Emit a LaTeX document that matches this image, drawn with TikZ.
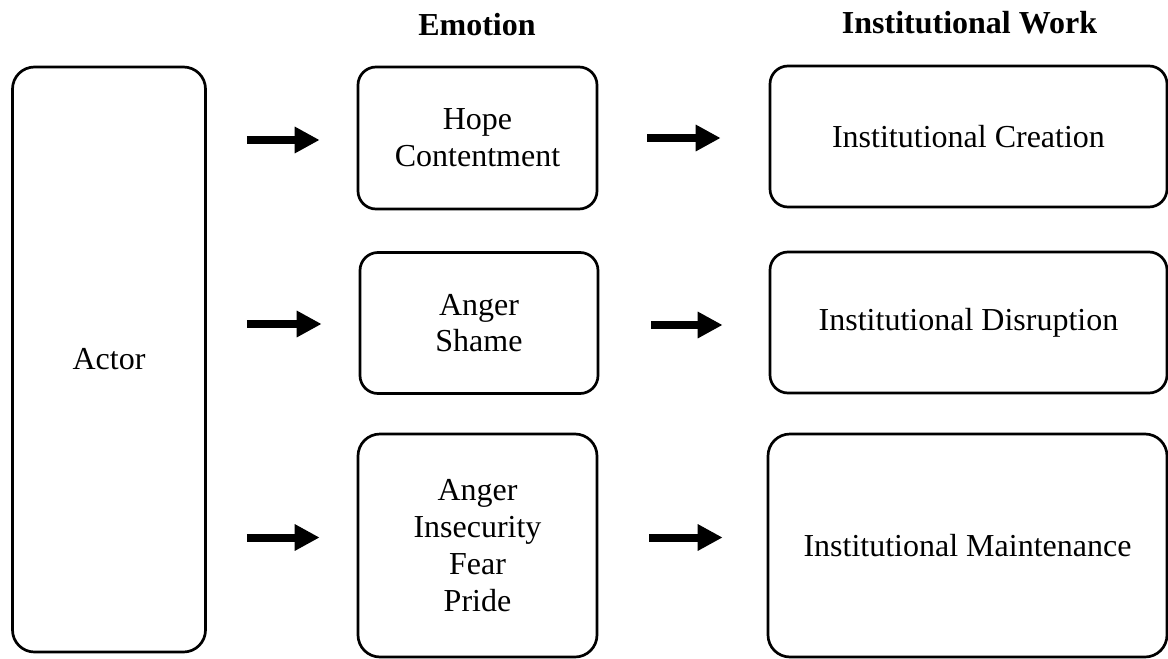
\documentclass[tikz,border=0pt]{standalone}
\usepackage{fontspec}
\setmainfont{Liberation Serif}
\usetikzlibrary{arrows.meta,calc}
\begin{document}
\begin{tikzpicture}[x=0.5pt,y=-0.5pt,
  box/.style={draw=black, line width=1.35pt, rounded corners=9pt, align=center,
    inner sep=0pt, font=\fontsize{16}{18.4}\selectfont},
  bigbox/.style={box, rounded corners=11pt},
  head/.style={anchor=base, inner sep=0pt, font=\fontsize{16}{18.4}\selectfont\bfseries},
  fatarrow/.style={line width=4pt, -{Triangle[length=12.5pt,width=12.5pt]}}]
\useasboundingbox (0,0) rectangle (1168,659);
\node[head] (hemo) at (477,35) {Emotion};
\node[head] (hwork) at (969.5,33) {Institutional Work};
\node[bigbox, minimum width=96.5pt, minimum height=292.5pt] (actor) at (109,359.5) {Actor};
\node[box, minimum width=119.5pt, minimum height=71pt] (e1) at (477.5,138) {Hope\\Contentment};
\node[box, minimum width=119pt, minimum height=70.5pt] (e2) at (479,323) {Anger\\Shame};
\node[bigbox, minimum width=119.5pt, minimum height=111.5pt] (e3) at (477.5,545.5) {Anger\\Insecurity\\Fear\\Pride};
\node[box, minimum width=198.5pt, minimum height=70.5pt] (i1) at (968.5,136.5) {Institutional Creation};
\node[box, minimum width=198.5pt, minimum height=70.5pt] (i2) at (968.5,322.5) {Institutional Disruption};
\node[bigbox, minimum width=199.5pt, minimum height=111.5pt] (i3) at (967.5,545.5) {Institutional Maintenance};
% left arrows
\draw[fatarrow] ($(actor.east |- e1.west)+(40,2)$) -- ($(e1.west)+(-37,2)$);
\draw[fatarrow] ($(actor.east |- e2.west)+(40,1)$) -- ($(e2.west)+(-37,1)$);
\draw[fatarrow] ($(actor.east |- e3.west)+(40,-8)$) -- ($(e3.west)+(-37,-8)$);
% right arrows
\draw[fatarrow] ($(e1.east)+(49,0)$) -- ($(i1.west |- e1.east)+(-48,0)$);
\draw[fatarrow] ($(e2.east)+(52,2)$) -- ($(i2.west |- e2.east)+(-46,2)$);
\draw[fatarrow] ($(e3.east)+(51,-8)$) -- ($(i3.west |- e3.east)+(-44,-8)$);
\end{tikzpicture}
\end{document}
